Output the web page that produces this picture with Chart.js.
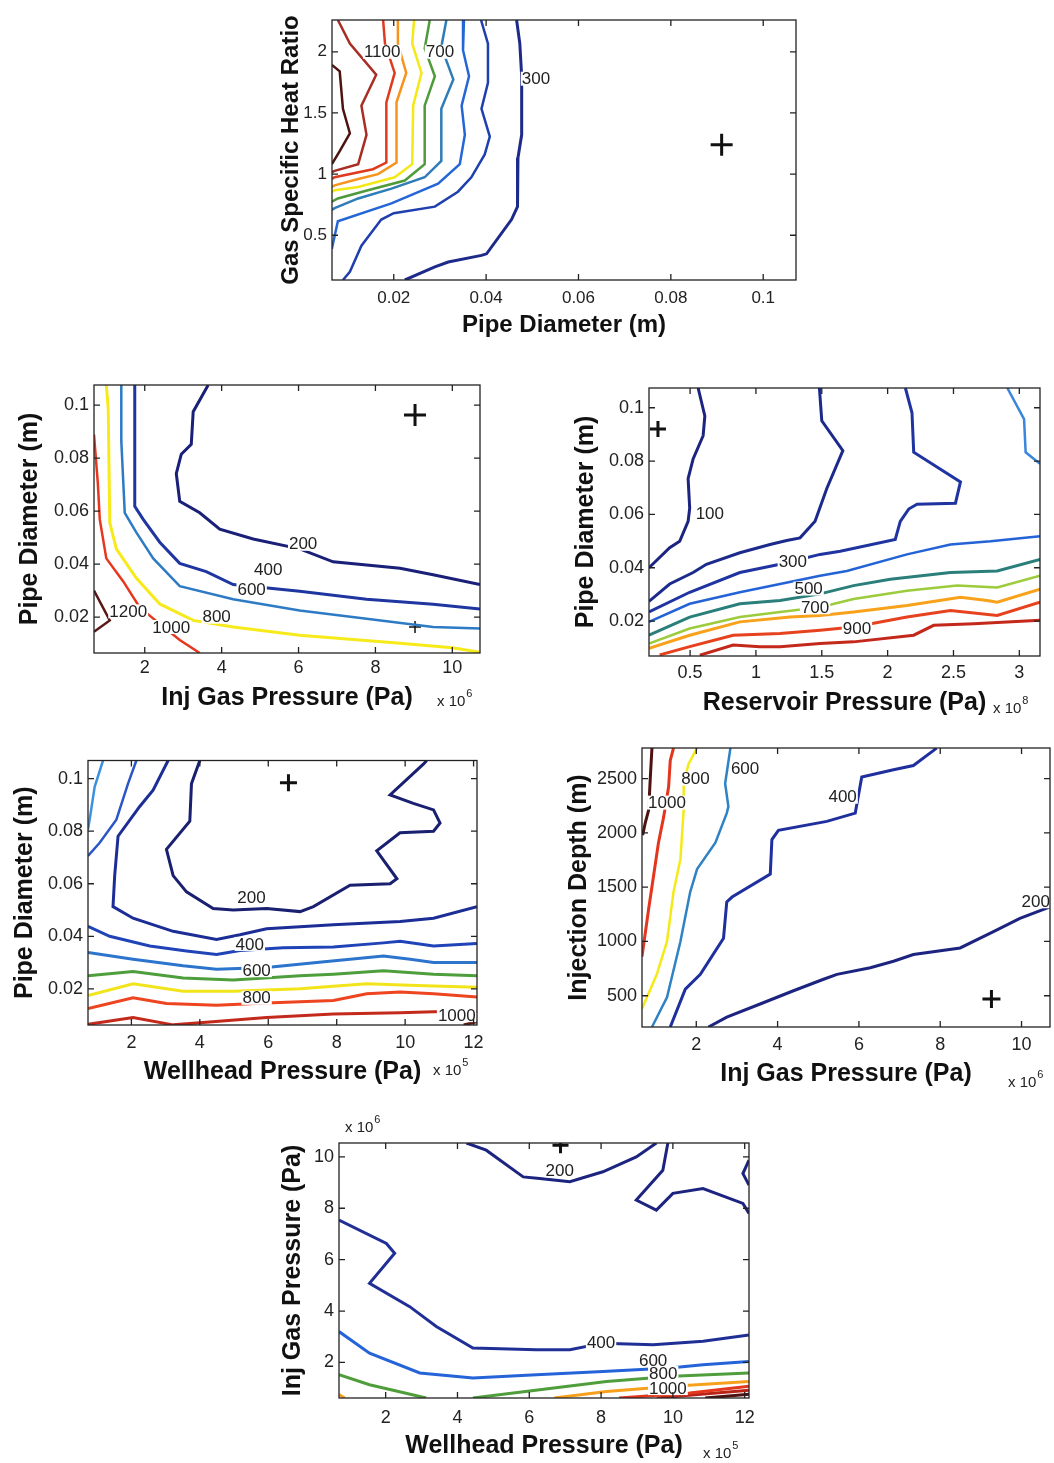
<!DOCTYPE html>
<html>
<head>
<meta charset="utf-8">
<script src="https://cdn.jsdelivr.net/npm/chart.js@4/dist/chart.umd.min.js"></script>
<style>
  body { margin: 0; background: #fff; width: 1054px; height: 1463px; position: relative; overflow: hidden; }
  canvas { position: absolute; }
</style>
</head>
<body>
<script>
const FONT = '"Liberation Sans", Arial, Helvetica, sans-serif';

// ---------- panel 1: gas specific heat ratio vs pipe diameter
const p1XTicks = [0.02, 0.04, 0.06, 0.08, 0.1];
const p1YTicks = [0.5, 1, 1.5, 2];
const p1L1200 = [[0.0066,1.893],[0.0083,1.84],[0.009,1.534],[0.0105,1.334],[0.0083,1.187],[0.0066,1.081]];
const p1L1100 = [[0.0079,2.26],[0.0105,2.067],[0.0162,1.813],[0.013,1.56],[0.0141,1.321],[0.0123,1.081],[0.0072,1.027],[0.0066,1.014]];
const p1L1000 = [[0.0177,2.26],[0.0181,2.067],[0.0202,1.827],[0.0184,1.587],[0.0184,1.094],[0.0155,1.04],[0.0072,0.974],[0.0066,0.961]];
const p1L900 = [[0.0209,2.26],[0.0209,2.067],[0.0227,1.827],[0.0206,1.587],[0.0206,1.094],[0.0166,1.0],[0.0123,0.96],[0.0072,0.908],[0.0066,0.894]];
const p1L800 = [[0.0244,2.26],[0.024,2.067],[0.026,1.827],[0.0242,1.56],[0.024,1.081],[0.0202,0.974],[0.0123,0.894],[0.0072,0.868],[0.0066,0.854]];
const p1L700 = [[0.0278,2.26],[0.0267,2.027],[0.0289,1.8],[0.0267,1.56],[0.0267,1.081],[0.0224,0.947],[0.0144,0.868],[0.0079,0.801],[0.0066,0.774]];
const p1L600 = [[0.0314,2.26],[0.0303,2.04],[0.0329,1.774],[0.0303,1.534],[0.0303,1.107],[0.0267,0.974],[0.0195,0.881],[0.0123,0.801],[0.0072,0.721],[0.0066,0.708]];
const p1L500 = [[0.0352,2.26],[0.035,2.013],[0.0363,1.8],[0.0347,1.56],[0.0354,1.321],[0.0343,1.081],[0.0296,0.921],[0.0195,0.761],[0.0079,0.614],[0.0072,0.494],[0.0066,0.388]];
const p1L400 = [[0.0389,2.26],[0.0404,2.067],[0.0404,1.747],[0.039,1.534],[0.0408,1.307],[0.0397,1.161],[0.0368,0.974],[0.0339,0.856],[0.0289,0.734],[0.02,0.68],[0.0173,0.628],[0.013,0.414],[0.0105,0.201],[0.009,0.134]];
const p1L300 = [[0.0466,2.26],[0.0473,2.067],[0.0477,1.8],[0.0477,1.321],[0.0469,1.134],[0.0468,0.734],[0.0455,0.628],[0.0401,0.348],[0.039,0.335],[0.0318,0.281],[0.0289,0.241],[0.0224,0.134]];
const p1Labels = [[0.0175,2.0,'1100'],[0.030,2.0,'700'],[0.0508,1.78,'300']];
const p1Plus = [[0.091,1.24]];

// ---------- panel 2: pipe diameter vs injection gas pressure
const p2XTicks = [2, 4, 6, 8, 10];
const p2YTicks = [0.02, 0.04, 0.06, 0.08, 0.1];
const p2L200 = [[3.65,0.1076],[3.26,0.0975],[3.21,0.0852],[2.95,0.0815],[2.82,0.0742],[2.91,0.0637],[3.43,0.0594],[3.95,0.0532],[4.82,0.0495],[6.03,0.0458],[6.9,0.0409],[8.64,0.0385],[9.5,0.036],[10.72,0.0323]];
const p2L400 = [[1.74,0.1076],[1.74,0.0618],[1.96,0.0569],[2.39,0.0483],[2.91,0.0403],[3.6,0.0372],[4.3,0.0323],[6.03,0.0298],[7.77,0.0268],[9.5,0.0249],[10.72,0.0231]];
const p2L600 = [[1.39,0.1076],[1.39,0.0865],[1.48,0.0594],[1.78,0.052],[2.22,0.0422],[2.91,0.0317],[4.3,0.0268],[6.03,0.0225],[7.77,0.0194],[9.5,0.0163],[10.72,0.0157]];
const p2L800 = [[1.0,0.1076],[1.05,0.0988],[1.09,0.0557],[1.26,0.0458],[1.78,0.0348],[2.39,0.025],[3.26,0.0188],[4.3,0.0163],[6.03,0.0132],[8.64,0.0102],[10.0,0.0085],[10.72,0.0068]];
const p2L1000 = [[0.68,0.0889],[0.78,0.0705],[0.83,0.0569],[1.0,0.0422],[1.44,0.0335],[1.87,0.0237],[2.39,0.0175],[2.91,0.0114],[3.43,0.0065]];
const p2L1200 = [[0.68,0.030],[1.09,0.0188],[0.68,0.0145]];
const p2Labels = [[6.12,0.0477,'200'],[5.21,0.0382,'400'],[4.78,0.0305,'600'],[3.87,0.0202,'800'],[2.69,0.0163,'1000'],[1.57,0.0222,'1200']];
const p2Plus = [[9.03,0.0963]];
const p2PlusSmall = [[9.03,0.0163]];

// ---------- panel 3: pipe diameter vs reservoir pressure
const p3XTicks = [0.5, 1, 1.5, 2, 2.5, 3];
const p3YTicks = [0.02, 0.04, 0.06, 0.08, 0.1];
const p3L100 = [[0.561,0.1074],[0.612,0.0969],[0.599,0.0895],[0.523,0.0808],[0.485,0.0734],[0.497,0.0623],[0.485,0.0574],[0.421,0.0499],[0.345,0.0475],[0.188,0.04]];
const p3L200 = [[1.482,0.1074],[1.5,0.0951],[1.66,0.0839],[1.538,0.0697],[1.449,0.0574],[1.335,0.0512],[1.234,0.0502],[1.107,0.0487],[0.878,0.0456],[0.624,0.0413],[0.523,0.0382],[0.345,0.0339],[0.188,0.0274]];
const p3L300 = [[2.135,0.1074],[2.185,0.0981],[2.198,0.0833],[2.553,0.0722],[2.515,0.0642],[2.223,0.0638],[2.16,0.062],[2.096,0.0574],[2.058,0.0506],[1.64,0.0462],[1.487,0.045],[1.183,0.0413],[0.878,0.0382],[0.497,0.0308],[0.188,0.0234]];
const p3L400 = [[3.157,0.0518],[2.782,0.0499],[2.477,0.0487],[2.147,0.045],[1.69,0.0388],[1.487,0.037],[0.878,0.0308],[0.497,0.0265],[0.188,0.0197]];
const p3L400b = [[2.909,0.1074],[3.036,0.0957],[3.048,0.0833],[3.157,0.079]];
const p3L500 = [[3.157,0.0431],[2.832,0.0388],[2.477,0.0382],[2.02,0.0357],[1.741,0.0333],[1.487,0.0302],[1.183,0.0277],[0.878,0.0265],[0.497,0.0215],[0.188,0.0147]];
const p3L600 = [[3.157,0.037],[2.832,0.0326],[2.528,0.0333],[2.147,0.0314],[1.741,0.0283],[1.487,0.0252],[1.183,0.0234],[0.878,0.0215],[0.497,0.0172],[0.188,0.0116]];
const p3L700 = [[3.157,0.032],[2.832,0.0271],[2.756,0.0277],[2.553,0.0289],[2.147,0.0258],[1.741,0.0234],[1.487,0.0221],[1.259,0.0215],[0.878,0.0197],[0.497,0.0147],[0.188,0.0098]];
const p3L800 = [[3.157,0.0271],[2.832,0.0221],[2.477,0.024],[2.147,0.0215],[1.741,0.0178],[1.487,0.0166],[1.183,0.0153],[0.827,0.0147],[0.497,0.0104],[0.269,0.0073]];
const p3L900 = [[3.157,0.0203],[2.655,0.019],[2.35,0.0184],[2.198,0.0147],[1.741,0.0122],[1.487,0.0116],[1.183,0.0104],[1.03,0.0104],[0.827,0.011],[0.574,0.0072]];
const p3Labels = [[0.65,0.0604,'100'],[1.28,0.0423,'300'],[1.40,0.0322,'500'],[1.449,0.0252,'700'],[1.767,0.0172,'900']];
const p3Plus = [[0.256,0.092]];

// ---------- panel 4: pipe diameter vs wellhead pressure
const p4XTicks = [2, 4, 6, 8, 10, 12];
const p4YTicks = [0.02, 0.04, 0.06, 0.08, 0.1];
const p4L200 = [[4.0,0.1069],[3.756,0.0981],[3.707,0.0838],[3.024,0.0731],[3.22,0.0631],[3.61,0.0569],[4.39,0.0506],[4.976,0.05],[5.95,0.0506],[6.93,0.0494],[7.32,0.0513],[8.39,0.0594],[9.56,0.06],[9.76,0.0619],[9.17,0.0725],[9.85,0.0794],[10.83,0.08],[11.02,0.0831],[10.83,0.0881],[10.24,0.0906],[9.56,0.0938],[10.54,0.1056],[10.63,0.1069]];
const p4L300 = [[3.073,0.1069],[2.634,0.0956],[2.244,0.0894],[1.61,0.0781],[1.512,0.0631],[1.463,0.0513],[2.049,0.0469],[3.22,0.0419],[4.488,0.0388],[5.171,0.0406],[5.951,0.0429],[7.902,0.0444],[9.854,0.0456],[10.83,0.0469],[12.1,0.0513]];
const p4L400 = [[0.732,0.0438],[1.366,0.04],[2.537,0.0363],[3.61,0.0344],[4.488,0.0331],[5.171,0.0346],[6.439,0.0356],[7.902,0.0359],[9.366,0.0375],[9.854,0.0381],[10.83,0.0363],[12.1,0.0373]];
const p4L400b = [[2.146,0.1069],[1.902,0.0981],[1.561,0.0844],[1.073,0.0756],[0.732,0.0706]];
const p4L500 = [[0.732,0.0338],[2.049,0.0313],[3.512,0.0288],[4.488,0.0275],[5.951,0.0281],[7.415,0.03],[9.366,0.0325],[10.15,0.0313],[10.83,0.03],[12.1,0.03]];
const p4L500b = [[1.171,0.1069],[0.927,0.0969],[0.78,0.0844],[0.732,0.0806]];
const p4L600 = [[0.732,0.025],[2.049,0.0266],[3.512,0.0241],[4.976,0.0234],[6.927,0.025],[7.902,0.0256],[9.366,0.0269],[10.83,0.0256],[12.1,0.025]];
const p4L700 = [[0.732,0.0175],[2.049,0.0219],[3.512,0.0191],[4.976,0.0191],[6.927,0.02],[8.878,0.0219],[10.34,0.0213],[12.1,0.0206]];
const p4L800 = [[0.732,0.0125],[2.049,0.0166],[3.024,0.0144],[4.488,0.0138],[5.951,0.0146],[7.902,0.0156],[8.878,0.0181],[9.854,0.0188],[10.83,0.0181],[12.1,0.0169]];
const p4L900 = [[0.732,0.0065],[2.049,0.0091],[3.22,0.0063],[4.0,0.0071],[5.951,0.0091],[7.902,0.0104],[9.854,0.0109],[10.83,0.0113],[12.1,0.0115]];
const p4L1000 = [[11.71,0.0063],[12.1,0.0075]];
const p4Labels = [[5.51,0.055,'200'],[5.46,0.0371,'400'],[5.66,0.0271,'600'],[5.66,0.0166,'800'],[11.51,0.01,'1000']];
const p4Plus = [[6.59,0.0984]];

// ---------- panel 5: injection depth vs injection gas pressure
const p5XTicks = [2, 4, 6, 8, 10];
const p5YTicks = [500, 1000, 1500, 2000, 2500];
const p5L200 = [[2.30,212],[2.75,303],[3.57,424],[4.39,546],[5.13,652],[5.46,697],[6.28,758],[6.85,818],[7.34,879],[8.49,940],[9.31,1091],[9.96,1212],[10.70,1318]];
const p5L400 = [[1.36,212],[1.73,561],[2.10,697],[2.67,1030],[2.75,1364],[2.88,1409],[3.82,1621],[3.86,1939],[4.02,2024],[5.21,2106],[5.91,2182],[6.07,2515],[6.85,2582],[7.34,2621],[7.83,2758],[7.91,2782]];
const p5L600 = [[0.91,212],[1.28,485],[1.61,1000],[1.85,1455],[2.02,1667],[2.47,1909],[2.75,2182],[2.79,2242],[2.71,2455],[2.84,2782]];
const p5L800 = [[0.665,380],[1.03,697],[1.28,1000],[1.44,1455],[1.61,1758],[1.69,2212],[1.69,2455],[1.81,2636],[2.02,2782]];
const p5L1000 = [[0.665,860],[0.83,1303],[0.95,1606],[1.07,1909],[1.20,2152],[1.32,2424],[1.36,2667],[1.44,2782]];
const p5L1200 = [[0.68,1980],[0.75,2100],[0.83,2212],[0.87,2515],[0.91,2782]];
const p5Labels = [[10.35,1370,'200'],[5.60,2333,'400'],[3.20,2591,'600'],[1.98,2500,'800'],[1.28,2279,'1000']];
const p5Plus = [[9.26,470]];

// ---------- panel 6: injection gas pressure vs wellhead pressure
const p6XTicks = [2, 4, 6, 8, 10, 12];
const p6YTicks = [2, 4, 6, 8, 10];
const p6L200a = [[4.25,10.54],[4.80,10.26],[5.83,9.22],[6.29,9.16],[7.13,9.03],[8.05,9.42],[8.98,10.0],[9.54,10.54]];
const p6L200b = [[9.86,10.54],[9.72,9.48],[8.98,8.32],[9.54,7.93],[10.0,8.58],[10.84,8.77],[11.95,8.19],[12.12,7.80]];
const p6L200c = [[12.12,9.87],[11.95,9.35],[12.12,8.90]];
const p6L400 = [[0.70,7.54],[2.02,6.63],[2.25,6.25],[1.55,5.08],[2.67,4.17],[3.41,3.40],[4.43,2.56],[6.20,2.49],[7.13,2.49],[8.05,2.75],[9.45,2.69],[10.84,2.82],[12.12,3.07]];
const p6L600 = [[0.70,3.20],[1.55,2.36],[2.95,1.59],[4.43,1.39],[6.20,1.52],[8.05,1.65],[9.91,1.78],[10.84,1.91],[12.12,2.04]];
const p6L800a = [[0.70,1.52],[1.55,1.13],[3.13,0.615]];
const p6L800b = [[4.43,0.615],[6.29,0.94],[8.15,1.26],[10.0,1.46],[12.12,1.59]];
const p6L1000a = [[6.7,0.615],[8.15,0.87],[10.0,1.07],[12.12,1.26]];
const p6L1000b = [[0.70,0.75],[0.86,0.615]];
const p6L1100 = [[8.5,0.615],[10.47,0.81],[12.12,1.07]];
const p6L1200 = [[9.55,0.615],[12.12,0.92]];
const p6L1300 = [[10.9,0.615],[12.12,0.76]];
const p6Labels = [[6.85,9.48,'200'],[8.0,2.77,'400'],[9.45,2.10,'600'],[9.73,1.59,'800'],[9.86,1.0,'1000']];
const p6Plus = [[6.87,10.45]];

// box, inward ticks, inline contour labels and the "x 10^n" notes
const boxPlugin = {
  id: 'matlabBox',
  afterDatasetsDraw(chart, args, opts) {
    const { ctx, chartArea: a, scales: { x, y } } = chart;
    ctx.save();
    ctx.font = '17px ' + FONT;
    ctx.textAlign = 'center';
    ctx.textBaseline = 'middle';
    (opts.labels || []).forEach(([vx, vy, txt]) => {
      const px = x.getPixelForValue(vx), py = y.getPixelForValue(vy);
      const w = ctx.measureText(txt).width;
      ctx.fillStyle = '#fff';
      ctx.fillRect(px - w / 2 - 1, py - 7, w + 2, 14);
      ctx.fillStyle = '#222';
      ctx.fillText(txt, px, py + 1);
    });
    ctx.strokeStyle = '#222';
    ctx.lineWidth = 1.3;
    ctx.strokeRect(a.left, a.top, a.right - a.left, a.bottom - a.top);
    ctx.beginPath();
    x.ticks.forEach(t => {
      const px = x.getPixelForValue(t.value);
      ctx.moveTo(px, a.bottom); ctx.lineTo(px, a.bottom - 6);
      ctx.moveTo(px, a.top); ctx.lineTo(px, a.top + 6);
    });
    y.ticks.forEach(t => {
      const py = y.getPixelForValue(t.value);
      ctx.moveTo(a.left, py); ctx.lineTo(a.left + 6, py);
      ctx.moveTo(a.right, py); ctx.lineTo(a.right - 6, py);
    });
    ctx.stroke();
    // exponent notes, given in page coordinates
    const ox = chart.canvas.offsetLeft, oy = chart.canvas.offsetTop;
    ctx.textAlign = 'left';
    ctx.textBaseline = 'alphabetic';
    ctx.fillStyle = '#222';
    (opts.mult || []).forEach(m => {
      ctx.font = '15px ' + FONT;
      ctx.fillText('x 10', m.x - ox, m.y - oy);
      const w = ctx.measureText('x 10').width;
      ctx.font = '11px ' + FONT;
      ctx.fillText(m.exp, m.x - ox + w + 1, m.y - oy - 9);
    });
    ctx.restore();
  }
};

function makePanel(p) {
  const tsz = p.titleSize;
  const padL = 3, padR = 14, padB = 4, padT = p.padT || 8;
  const left = Math.round(p.yTitleX - tsz / 2 - padL);
  const top = p.box.t - padT;
  const right = p.box.r + padR;
  const bottom = Math.round(p.xTitleY + tsz / 2 + padB);
  const cv = document.createElement('canvas');
  cv.width = right - left;
  cv.height = bottom - top;
  cv.style.left = left + 'px';
  cv.style.top = top + 'px';
  document.body.appendChild(cv);

  const datasets = p.lines.map(([pts, color, w]) => ({
    data: pts.map(([x, y]) => ({ x, y })),
    borderColor: color, borderWidth: w || 2.5,
    showLine: true, pointRadius: 0, tension: 0, clip: 0
  }));
  (p.plus || []).forEach(([pts, r, w]) => datasets.push({
    data: pts.map(([x, y]) => ({ x, y })),
    showLine: false, pointStyle: 'cross', pointRadius: r,
    pointBorderColor: '#111', pointBorderWidth: w, clip: 0
  }));

  const tickFont = { family: FONT, size: p.tickSize || 18 };
  const titleFont = { family: FONT, size: tsz, weight: 'bold', lineHeight: 1 };

  new Chart(cv, {
    type: 'scatter',
    data: { datasets },
    options: {
      responsive: false, animation: false, devicePixelRatio: 1,
      layout: { padding: { left: padL, right: padR, top: padT, bottom: padB } },
      plugins: {
        legend: { display: false }, tooltip: { enabled: false },
        matlabBox: { labels: p.labels, mult: p.mult }
      },
      scales: {
        x: {
          type: 'linear', min: p.xRange[0], max: p.xRange[1],
          afterBuildTicks: s => { s.ticks = p.xTicks.map(v => ({ value: v })); },
          afterFit: s => {
            s.height = bottom - top - padB - (p.box.b - top);
            s.paddingLeft = 0; s.paddingRight = 0;
          },
          grid: { display: false, drawTicks: false }, border: { display: false },
          ticks: { font: tickFont, color: '#222', padding: p.xTickPad, maxRotation: 0, callback: v => String(v) },
          title: { display: true, text: p.xTitle, font: titleFont, color: '#111', padding: 0 }
        },
        y: {
          type: 'linear', min: p.yRange[0], max: p.yRange[1],
          afterBuildTicks: s => { s.ticks = p.yTicks.map(v => ({ value: v })); },
          afterFit: s => {
            s.width = p.box.l - left - padL;
            s.paddingTop = 0; s.paddingBottom = 0;
          },
          grid: { display: false, drawTicks: false }, border: { display: false },
          ticks: { font: tickFont, color: '#222', padding: 5, callback: v => String(v) },
          title: { display: true, text: p.yTitle, font: titleFont, color: '#111', padding: 0 }
        }
      }
    },
    plugins: [boxPlugin]
  });
}

makePanel({
  box: { l: 332, t: 14, r: 796, b: 280 }, yTitleX: 291, xTitleY: 325, titleSize: 24, tickSize: 17, xTickPad: 8,
  xRange: [0.00663, 0.1071], yRange: [0.134, 2.26], xTicks: p1XTicks, yTicks: p1YTicks,
  xTitle: 'Pipe Diameter (m)', yTitle: 'Gas Specific Heat Ratio',
  lines: [
    [p1L1200, '#4e1210'], [p1L1100, '#a82d24'], [p1L1000, '#de3b1e'], [p1L900, '#f7941d'],
    [p1L800, '#f4e816'], [p1L700, '#4f9a3b'], [p1L600, '#2f7db8'], [p1L500, '#2566d6'],
    [p1L400, '#1f3fae'], [p1L300, '#1e2a8a', 3]
  ],
  plus: [[p1Plus, 11, 3]], labels: p1Labels
});

makePanel({
  box: { l: 94, t: 379, r: 480, b: 653 }, yTitleX: 30, xTitleY: 698, titleSize: 25, xTickPad: 4,
  xRange: [0.68, 10.72], yRange: [0.0065, 0.1076], xTicks: p2XTicks, yTicks: p2YTicks,
  xTitle: 'Inj Gas Pressure (Pa)', yTitle: 'Pipe Diameter (m)',
  lines: [
    [p2L200, '#1a1f78', 3], [p2L400, '#1f36a0', 3], [p2L600, '#2d7bc4'], [p2L800, '#f7ea1a', 3],
    [p2L1000, '#e8361e'], [p2L1200, '#5a1818']
  ],
  plus: [[p2Plus, 11, 3], [p2PlusSmall, 6, 1.5]], labels: p2Labels,
  mult: [{ x: 437, y: 706, exp: '6' }]
});

makePanel({
  box: { l: 649, t: 385, r: 1040, b: 656 }, yTitleX: 586, xTitleY: 703, titleSize: 25, xTickPad: 6,
  xRange: [0.188, 3.157], yRange: [0.0069, 0.1074], xTicks: p3XTicks, yTicks: p3YTicks,
  xTitle: 'Reservoir Pressure (Pa)', yTitle: 'Pipe Diameter (m)',
  lines: [
    [p3L100, '#1c2480', 3], [p3L200, '#1c2a8c', 3], [p3L300, '#1f34a0', 3], [p3L400, '#2363d6'],
    [p3L400b, '#3a86dc'], [p3L500, '#2b7f7a', 3], [p3L600, '#9ccc3c'], [p3L700, '#f8a21c', 3],
    [p3L800, '#e6421e', 3], [p3L900, '#c4281a', 3]
  ],
  plus: [[p3Plus, 8, 3]], labels: p3Labels,
  mult: [{ x: 993, y: 713, exp: '8' }]
});

makePanel({
  box: { l: 88, t: 757, r: 477, b: 1025 }, yTitleX: 25, xTitleY: 1072, titleSize: 25, xTickPad: 7,
  xRange: [0.732, 12.1], yRange: [0.00625, 0.1069], xTicks: p4XTicks, yTicks: p4YTicks,
  xTitle: 'Wellhead Pressure (Pa)', yTitle: 'Pipe Diameter (m)',
  lines: [
    [p4L200, '#1a2070', 3], [p4L300, '#1c2e96', 3], [p4L400, '#2044b8', 3], [p4L400b, '#2a56c8'],
    [p4L500, '#2c74cc', 3], [p4L500b, '#3c90e0'], [p4L600, '#4e9e3c', 3], [p4L700, '#f2e41a', 3],
    [p4L800, '#ee4420', 3], [p4L900, '#c42a1c', 3], [p4L1000, '#5a1a14', 3]
  ],
  plus: [[p4Plus, 8.5, 3]], labels: p4Labels,
  mult: [{ x: 433, y: 1075, exp: '5' }]
});

makePanel({
  box: { l: 642, t: 744, r: 1050, b: 1027 }, yTitleX: 579, xTitleY: 1074, titleSize: 25, xTickPad: 7,
  xRange: [0.665, 10.70], yRange: [212, 2782], xTicks: p5XTicks, yTicks: p5YTicks,
  xTitle: 'Inj Gas Pressure (Pa)', yTitle: 'Injection Depth (m)',
  lines: [
    [p5L200, '#1c2480', 3], [p5L400, '#1f2f9e', 3], [p5L600, '#2f82c4'], [p5L800, '#f4ea18'],
    [p5L1000, '#e4361e', 3], [p5L1200, '#4e1210', 3]
  ],
  plus: [[p5Plus, 9, 3]], labels: p5Labels,
  mult: [{ x: 1008, y: 1087, exp: '6' }]
});

makePanel({
  box: { l: 339, t: 1143, r: 749, b: 1398 }, yTitleX: 293, xTitleY: 1446, titleSize: 25, xTickPad: 9, padT: 36,
  xRange: [0.70, 12.12], yRange: [0.615, 10.54], xTicks: p6XTicks, yTicks: p6YTicks,
  xTitle: 'Wellhead Pressure (Pa)', yTitle: 'Inj Gas Pressure (Pa)',
  lines: [
    [p6L200a, '#1c2480', 3], [p6L200b, '#1c2480', 3], [p6L200c, '#1c2480', 3], [p6L400, '#1f2f96', 3],
    [p6L600, '#2563d8', 3], [p6L800a, '#4f9d3b', 3], [p6L800b, '#4f9d3b', 3], [p6L1000a, '#f7a01c', 3],
    [p6L1000b, '#f7a01c', 3], [p6L1100, '#e4381e', 3], [p6L1200, '#b82418', 3], [p6L1300, '#4e1210', 3]
  ],
  plus: [[p6Plus, 8, 3]], labels: p6Labels,
  mult: [{ x: 345, y: 1132, exp: '6' }, { x: 703, y: 1458, exp: '5' }]
});
</script>
</body>
</html>
